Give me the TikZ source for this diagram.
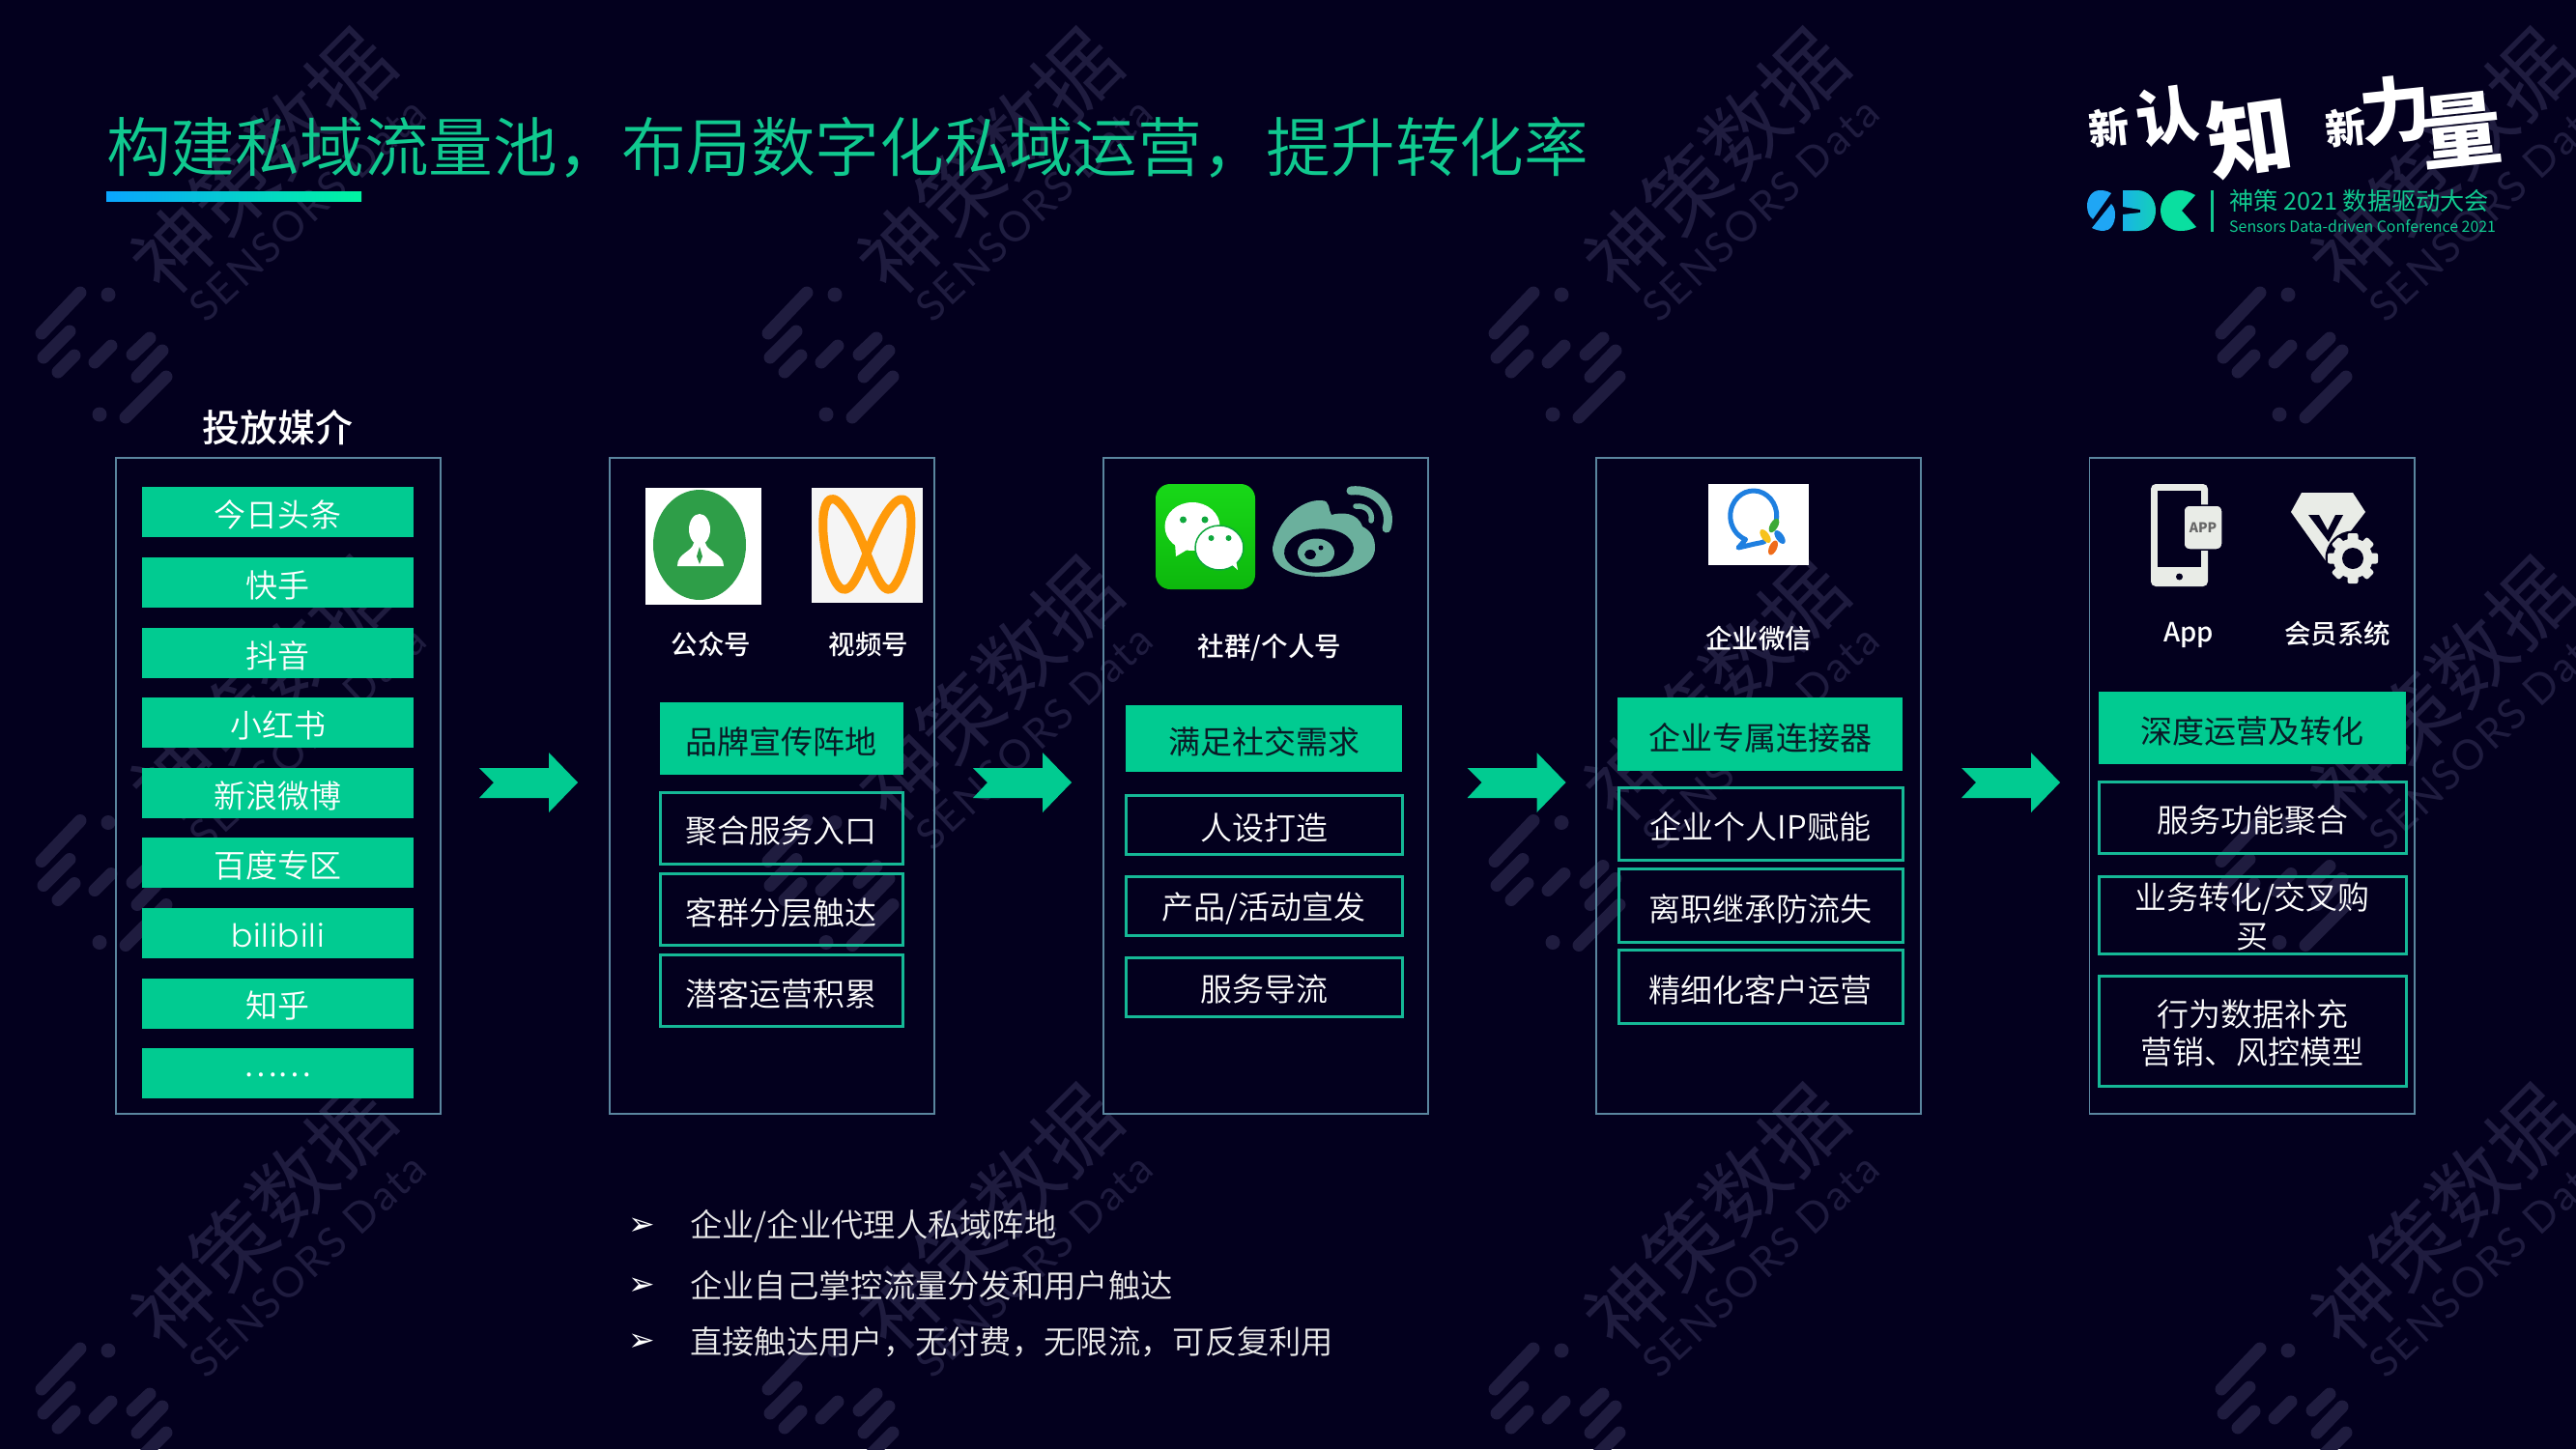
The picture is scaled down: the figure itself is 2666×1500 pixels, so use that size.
\documentclass[tikz,border=0pt]{standalone}
\usepackage{fontspec}
\setmainfont{Noto Sans CJK SC}
\newfontfamily\medf{Noto Sans CJK SC Medium}
\newfontfamily\lightf{Noto Sans CJK SC DemiLight}
\newfontfamily\popf{Poppins Light}[LetterSpace=3]
\newfontfamily\latof{Lato}[LetterSpace=6]
\newfontfamily\dejavu{DejaVu Sans}
\definecolor{bgc}{HTML}{03001E}
\definecolor{wmc}{HTML}{1F1C3F}
\definecolor{grn}{HTML}{01CB91}
\definecolor{edgec}{HTML}{15B896}
\definecolor{panelc}{HTML}{5A859E}
\definecolor{darktx}{HTML}{0A1A26}
\definecolor{ttl}{HTML}{10C98F}
\definecolor{iconc}{HTML}{E9ECE7}
\definecolor{weibo}{HTML}{6BB09D}
\definecolor{gzh}{HTML}{2E9E48}
\definecolor{orng}{HTML}{FF9A0A}
\definecolor{wxa}{HTML}{18D818}
\definecolor{wxb}{HTML}{0DB80D}
\definecolor{wxd}{HTML}{0FA83C}
\definecolor{wcblue}{HTML}{1E7FE0}
\definecolor{wcgreen}{HTML}{3DAA35}
\definecolor{wcyel}{HTML}{F7C21C}
\definecolor{wcred}{HTML}{EF6C1A}
\definecolor{sdca}{HTML}{1FA6F5}
\definecolor{sdcb}{HTML}{18B4E6}
\definecolor{sdcbb}{HTML}{14D0B8}
\definecolor{sdcc}{HTML}{0ADFA0}
\definecolor{ula}{HTML}{0AA5FF}
\definecolor{ulb}{HTML}{00D8E8}
\definecolor{ulc}{HTML}{00F5A0}
\newcommand\fs[1]{\fontsize{#1}{#1}\selectfont}
\newcommand\bx[7][]{%
  \pgfmathsetmacro\cxx{(#3+#5)/2}\pgfmathsetmacro\cyy{(#4+#6)/2}%
  \pgfmathsetmacro\wdd{#5-#3}\pgfmathsetmacro\htt{#6-#4}%
  \node[#1,minimum width=\wdd pt,minimum height=\htt pt,inner sep=0pt,outer sep=0pt] (#2) at (\cxx,\cyy) {#7};}
\newcommand\lowr[2][3.5pt]{\raisebox{-#1}[\height][\depth]{#2}}
\tikzset{
  panelbox/.style={draw=panelc,line width=1.6pt},
  media/.style={fill=grn,text=white,font=\lightf\fs{33}},
  lead/.style={fill=grn,text=darktx,font=\fs{33}},
  item/.style={draw=edgec,line width=3pt,text=white,font=\lightf\fs{33}},
  captxt/.style={text=white,font=\medf\fs{27.5},inner sep=0pt},
  bul/.style={text=white,font=\dejavu\fs{33},inner sep=0pt},
  bultext/.style={text=white!92!black,font=\lightf\fs{33.3},anchor=west,inner sep=0pt},
  flowarrow/.style={fill=grn},
  wmstroke/.style={draw=wmc,line width=13pt,line cap=round},
  brush/.style={text=white,inner sep=0pt}
}
\newcommand\flowarrow[1]{\fill[flowarrow,shift={(#1,0)}] (0,795)--(72,795)--(72,779)--(102,810)--(72,841)--(72,826)--(0,826)--(15,810)--cycle;}
\begin{document}
\begin{tikzpicture}[x=1pt,y=-1pt]
\useasboundingbox (0,0) rectangle (2666,1500);
\fill[bgc] (0,0) rectangle (2666,1500);
% watermark tiles
\begin{scope}
\clip (0,0) rectangle (2666,1500);
\foreach \cc in {0,1,2,3}{\foreach \rr in {0,1,2}{
 \begin{scope}[shift={(752*\cc,546.5*\rr)}]
  \draw[wmstroke] (83,303)--(43,345);
  \draw[wmstroke] (72,343)--(45,370);
  \draw[wmstroke] (77,368)--(60,385);
  \draw[wmstroke] (115,358)--(98,375);
  \draw[wmstroke] (155,350)--(137,367);
  \draw[wmstroke] (168,363)--(142,390);
  \draw[wmstroke] (172,390)--(130,432);
  \fill[wmc] (112,305) circle (7.5pt) (103,429) circle (7.5pt);
  \node[wmc,rotate=45,font=\fs{85},inner sep=0pt] (wmcn\cc\rr) at (272,167) {神策数据};
  \node[wmc,rotate=43,font=\latof\fs{43},inner sep=0pt] (wmen\cc\rr) at (318,217) {SENSORS Data};
 \end{scope}
}}
\end{scope}
% title
\node[text=ttl,font=\lightf\fs{66.7},anchor=west,inner sep=0pt] (title) at (110,153) {构建私域流量池，布局数字化私域运营，提升转化率};
\fill[left color=ula,middle color=ulb,right color=ulc] (110,198) rectangle (374,208);
% logo
\node[brush,font=\bfseries\fs{42},rotate=6] (sl1) at (2183,132) {新};
\node[brush,font=\bfseries\fs{64},rotate=8] (sl2) at (2243,120) {认};
\node[brush,font=\bfseries\fs{88},rotate=8] (sl3) at (2328,141) {知};
\node[brush,font=\bfseries\fs{42},rotate=6] (sl4) at (2428,132) {新};
\node[brush,font=\bfseries\fs{74},rotate=6] (sl5) at (2479,114) {力};
\node[brush,font=\bfseries\fs{84},rotate=6] (sl6) at (2547,135) {量};
% SDC mark
\fill[sdca] (2185,200) .. controls (2180,197) and (2176,197) .. (2173,197) .. controls (2165,197) and (2160,205) .. (2160,213) .. controls (2160,219) and (2162,224) .. (2166,227) -- cycle;
\fill[sdca] (2185,211) .. controls (2188,214) and (2189,218) .. (2189,222) .. controls (2189,232) and (2184,239) .. (2177,239) .. controls (2173,239) and (2169,238) .. (2165,236) -- cycle;
\fill[left color=sdcb,right color=sdcbb] (2197,197)--(2212,197) .. controls (2224,197) and (2231,207) .. (2231,218) .. controls (2231,229) and (2224,239) .. (2212,239)--(2197,239)--(2197,222)--(2215,220)--(2215,217)--(2197,214)--cycle;
\fill[sdcc] (2272,202) .. controls (2265,198) and (2260,197) .. (2256,197) .. controls (2244,197) and (2236,207) .. (2236,218) .. controls (2236,229) and (2244,239) .. (2256,239) .. controls (2260,239) and (2265,239) .. (2273,235)--(2258,218)--cycle;
\draw[ttl,line width=2.5pt] (2289.5,197)--(2289.5,240);
\node[text=ttl,font=\fs{25.2},anchor=west,inner sep=0pt] (conf) at (2307,208) {神策 2021 数据驱动大会};
\node[text=ttl,font=\fs{15.9},anchor=west,inner sep=0pt] (confen) at (2307,234) {Sensors Data-driven Conference 2021};
% panels
\bx[panelbox]{p1}{120}{474}{456}{1153}{}
\bx[panelbox]{p2}{631}{474}{967}{1153}{}
\bx[panelbox]{p3}{1142}{474}{1478}{1153}{}
\bx[panelbox]{p4}{1652}{474}{1988}{1153}{}
\bx[panelbox]{p5}{2162.5}{474}{2499}{1153}{}
\node[text=white,font=\medf\fs{39},inner sep=0pt] (ptitle) at (287,443) {投放媒介};
% panel 1
\bx[media]{m1}{147}{504}{428}{556}{\lowr[3pt]{今日头条}}
\bx[media]{m2}{147}{576.5}{428}{628.5}{\lowr[3pt]{快手}}
\bx[media]{m3}{147}{649.5}{428}{701.5}{\lowr[3pt]{抖音}}
\bx[media]{m4}{147}{722}{428}{774}{\lowr[3pt]{小红书}}
\bx[media]{m5}{147}{794.5}{428}{846.5}{\lowr[3pt]{新浪微博}}
\bx[media]{m6}{147}{867}{428}{919}{\lowr[3pt]{百度专区}}
\bx[media]{m7}{147}{940}{428}{992}{\lowr[2pt]{\popf\fs{33}bilibili}}
\bx[media]{m8}{147}{1012.5}{428}{1064.5}{\lowr[2pt]{知乎}}
\bx[media]{m9}{147}{1085}{428}{1137}{\lowr[2pt]{……}}
% panel 2
\bx[lead]{a1}{683}{727}{934.5}{802}{\lowr{品牌宣传阵地}}
\bx[item]{a2}{683}{820}{934.5}{894}{\lowr{聚合服务入口}}
\bx[item]{a3}{683}{904}{934.5}{978}{\lowr{客群分层触达}}
\bx[item]{a4}{683}{988}{934.5}{1062}{\lowr{潜客运营积累}}
% panel 3
\bx[lead]{b1}{1165}{730}{1451}{799}{\lowr{满足社交需求}}
\bx[item]{b2}{1165}{823}{1451}{884}{\lowr{人设打造}}
\bx[item]{b3}{1165}{907}{1451}{968}{\lowr{产品/活动宣发}}
\bx[item]{b4}{1165}{991}{1451}{1052}{\lowr[2.5pt]{服务导流}}
% panel 4
\bx[lead]{c1}{1674}{722}{1969}{798}{\lowr{企业专属连接器}}
\bx[item]{c2}{1675}{815}{1969}{890}{\lowr{企业个人IP赋能}}
\bx[item]{c3}{1675}{899}{1969}{975}{\lowr{离职继承防流失}}
\bx[item]{c4}{1675}{983}{1969}{1059}{\lowr{精细化客户运营}}
% panel 5
\bx[lead]{d1}{2172}{716}{2490}{791}{\lowr{深度运营及转化}}
\bx[item]{d2}{2172}{809}{2490}{883}{\lowr{服务功能聚合}}
\bx[item]{d3}{2172}{910}{2490}{984}{\lowr[6pt]{\fontsize{33}{40}\selectfont\begin{tabular}{@{}c@{}}业务转化/交叉购\\买\end{tabular}}}
\bx[item]{d4}{2172}{1010}{2490}{1124}{\lowr[6.5pt]{\fontsize{33}{38}\selectfont\begin{tabular}{@{}c@{}}行为数据补充\\营销、风控模型\end{tabular}}}
% arrows
\flowarrow{496}\flowarrow{1007}\flowarrow{1518.5}\flowarrow{2030}
% captions
\node[captxt] (l1) at (736,667) {公众号};
\node[captxt] (l2) at (899,667) {视频号};
\node[captxt] (l3) at (1314,670) {社群/个人号};
\node[captxt] (l4) at (1820,661) {企业微信};
\node[captxt] (l5) at (2265,657) {App};
\node[captxt] (l6) at (2419,656) {会员系统};
% bullets
\node[bul] (k1) at (664,1270) {➢};
\node[bul] (k2) at (664,1332) {➢};
\node[bul] (k3) at (664,1390) {➢};
\node[bultext] (t1) at (714,1269) {企业/企业代理人私域阵地};
\node[bultext] (t2) at (714,1331) {企业自己掌控流量分发和用户触达};
\node[bultext] (t3) at (714,1389) {直接触达用户，无付费，无限流，可反复利用};
% gongzhonghao icon
\fill[white] (668,505) rectangle (788,626);
\fill[gzh] (724,564) ellipse [x radius=48pt,y radius=57pt];
\fill[white] (724,548) ellipse [x radius=11pt,y radius=16pt];
\fill[white] (701,586) .. controls (701,572) and (716,572) .. (718,562)--(730,562) .. controls (732,572) and (749,572) .. (749,586)--cycle;
\fill[gzh] (724,566)--(727,576)--(724,584)--(721,576)--cycle;
% shipin icon
\fill[white!96!black] (840,505) rectangle (955,624);
\draw[orng,line width=9pt,line join=round] (897,573) .. controls (910,540) and (925,514) .. (935,517) .. controls (950,522) and (942,585) .. (925,607) .. controls (916,618) and (908,600) .. (897,573) .. controls (885,540) and (868,512) .. (859,517) .. controls (845,525) and (853,590) .. (868,607) .. controls (878,618) and (887,600) .. (897,573) -- cycle;
% wechat icon
\fill[top color=wxa,bottom color=wxb,rounded corners=15pt] (1196,501) rectangle (1299,610);
\fill[white] (1234,545) ellipse [x radius=28.5pt,y radius=25pt];
\fill[white] (1216,562)--(1217,576)--(1232,567)--cycle;
\draw[wxd,fill=white,line width=1.5pt] (1262,567) ellipse [x radius=25pt,y radius=23pt];
\fill[white] (1272,582)--(1281,590)--(1278,575)--cycle;
\fill[wxd] (1224.5,538) circle (3.5pt) (1247,538) circle (3.5pt) (1253.5,557) circle (3pt) (1271.5,557) circle (3pt);
% weibo icon
\fill[weibo] (1317,567) .. controls (1322,540) and (1345,517) .. (1367,518) .. controls (1378,518) and (1374,528) .. (1378,533) .. controls (1388,530) and (1405,530) .. (1410,545) .. controls (1420,550) and (1423,558) .. (1423,567) .. controls (1423,585) and (1400,597) .. (1370,597) .. controls (1340,597) and (1317,590) .. (1317,567) -- cycle;
\fill[bgc,rotate around={5:(1365,570)}] (1365,570) ellipse [x radius=36pt,y radius=22.5pt];
\fill[weibo] (1362,572) ellipse [x radius=19pt,y radius=14.5pt];
\fill[bgc] (1356,574) ellipse [x radius=6pt,y radius=5pt];
\fill[bgc] (1367,567) circle (2.5pt);
\draw[weibo,line width=9pt,line cap=round] (1398,508) .. controls (1423,505) and (1442,525) .. (1435,547);
\draw[weibo,line width=5.5pt,line cap=round] (1403,524) .. controls (1414,523) and (1421,530) .. (1419,539);
% wecom icon
\fill[white] (1768,501) rectangle (1872,585);
\draw[wcblue,line width=5pt,line join=round] (1836.5,545) arc [x radius=24pt,y radius=26pt,start angle=-25,end angle=250] -- (1799,567) -- (1816,563) .. controls (1820,562) and (1824,562) .. (1827,560);
\fill[wcgreen,rotate around={-30:(1836,544)}] (1836,544) ellipse [x radius=4pt,y radius=8pt];
\fill[wcyel,rotate around={35:(1827,555)}] (1827,555) ellipse [x radius=4pt,y radius=8pt];
\fill[wcblue,rotate around={35:(1842,556)}] (1842,556) ellipse [x radius=4pt,y radius=8pt];
\fill[wcred,rotate around={-25:(1835,567)}] (1835,567) ellipse [x radius=4pt,y radius=8pt];
% phone icon
\fill[iconc,rounded corners=5pt] (2226,501) rectangle (2285,607);
\fill[bgc] (2233,508) rectangle (2278,587);
\fill[bgc] (2255.5,597) circle (3.5pt);
\fill[iconc,draw=bgc,line width=1.5pt,rounded corners=6pt] (2260,523) rectangle (2300,569);
\node[text=black!60,font=\bfseries\fs{14},inner sep=0pt] (apptxt) at (2280,546) {APP};
% member icon
\fill[iconc] (2382,510)--(2435,510)--(2448,530)--(2408,582)--(2371,530)--cycle;
\fill[bgc] (2389,533)--(2400,533)--(2409,549)--(2417,533)--(2425,533)--(2410,561)--cycle;
\fill[bgc] (2435,578) circle (28.5pt);
\foreach \a in {0,45,...,315}{\fill[iconc,rounded corners=2pt,rotate around={\a:(2435,578)}] (2429.5,552) rectangle (2440.5,568);}
\fill[iconc] (2435,578) circle (20.5pt);
\fill[bgc] (2435,578) circle (11pt);
\end{tikzpicture}
\end{document}
